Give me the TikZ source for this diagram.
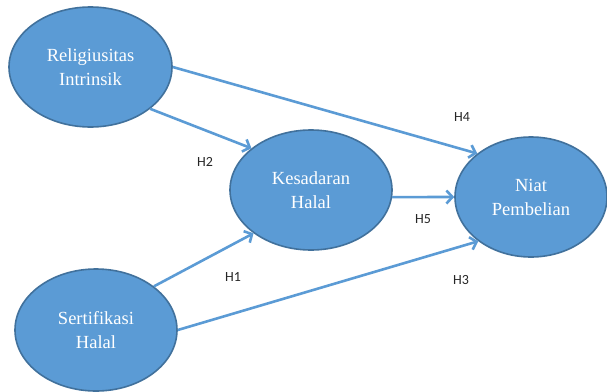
\documentclass[tikz,border=0pt]{standalone}
\usepackage{fontspec}
\setmainfont{Liberation Serif}
\newfontfamily\hfont{Carlito}
\usetikzlibrary{arrows.meta,shapes.geometric}

\definecolor{varfill}{HTML}{5B9BD5}
\definecolor{varline}{HTML}{41719C}

\tikzset{
  var/.style={ellipse,draw=varline,line width=1.6pt,fill=varfill,inner sep=0pt,
    text=white,align=center,font=\fontsize{18.5}{24}\selectfont},
  path/.style={draw=varfill,line width=2.6pt,
    -{Straight Barb[length=6pt,width=13pt,line width=2.6pt]}},
  hyp/.style={font=\hfont\fontsize{14}{16}\selectfont,text=black!85}
}

\begin{document}
\begin{tikzpicture}[x=1pt,y=-1pt]
    \useasboundingbox (0,0) rectangle (607,391);

    % religiusitas intrinsik
    \node[var,minimum width=163pt,minimum height=120pt] (ri) at (90.5,67) {Religiusitas\\Intrinsik};

    % kesadaran halal (mediator)
    \node[var,minimum width=162pt,minimum height=120pt] (kh) at (311,190) {Kesadaran\\Halal};

    % niat pembelian (outcome)
    \node[var,minimum width=152pt,minimum height=120pt] (np) at (531,197) {Niat\\Pembelian};

    % sertifikasi halal
    \node[var,minimum width=162pt,minimum height=122pt] (sh) at (96,330) {Sertifikasi\\Halal};

    %%%%%%%%%%%%%%%%%%%%%%%%%%%%%%%%%%%%%%%%%%%%%%%%%%%%%%

    % paths
    \draw[path] (ri.east) -- (np.141);
    \draw[path] (ri.-35) -- (kh.145);
    \draw[path] (kh.-5) -- (np.west);
    \draw[path] (sh.37) -- (kh.217);
    \draw[path] (sh.east) -- (np.220);

    % hypothesis labels
    \node[hyp] (h4) at (462,117) {H4};
    \node[hyp] (h2) at (205,162) {H2};
    \node[hyp] (h5) at (423,219) {H5};
    \node[hyp] (h1) at (233,277) {H1};
    \node[hyp] (h3) at (461,280) {H3};

\end{tikzpicture}
\end{document}
